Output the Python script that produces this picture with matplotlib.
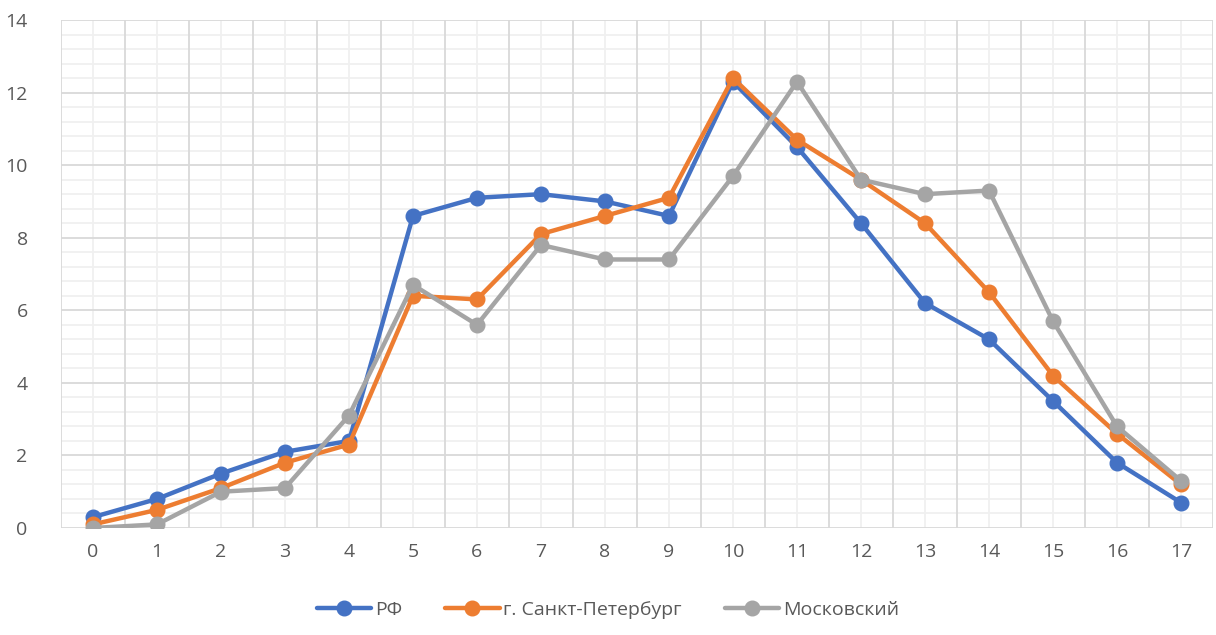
import matplotlib
matplotlib.use("Agg")
import matplotlib.pyplot as plt
from matplotlib.ticker import MultipleLocator, FixedLocator
import numpy as np

categories = list(range(18))
rf = [0.3, 0.8, 1.5, 2.1, 2.4, 8.6, 9.1, 9.2, 9.0, 8.6, 12.3, 10.5, 8.4, 6.2, 5.2, 3.5, 1.8, 0.7]
spb = [0.1, 0.5, 1.1, 1.8, 2.3, 6.4, 6.3, 8.1, 8.6, 9.1, 12.4, 10.7, 9.6, 8.4, 6.5, 4.2, 2.6, 1.2]
msk = [0.0, 0.1, 1.0, 1.1, 3.1, 6.7, 5.6, 7.8, 7.4, 7.4, 9.7, 12.3, 9.6, 9.2, 9.3, 5.7, 2.8, 1.3]
series_names = ["РФ", "г. Санкт-Петербург", "Московский"]
colors = ["#4472C4", "#ED7D31", "#A5A5A5"]

plt.rcParams['font.family'] = ['Open Sans', 'DejaVu Sans']

fig = plt.figure(figsize=(12.16, 6.35), dpi=100)
ax = fig.add_axes([61/1216, 107/635, 1152/1216, 508/635])

x = np.arange(len(categories))
for vals, name, c in zip([rf, spb, msk], series_names, colors):
    ax.plot(x, vals, color=c, lw=3.2, marker='o', ms=10.5, label=name,
            solid_capstyle='round', zorder=3)

ax.set_xlim(-0.5, len(categories) - 0.5)
ax.set_ylim(0, 14)
ax.set_xticks(x)
ax.set_xticklabels([str(c) for c in categories])
ax.yaxis.set_major_locator(MultipleLocator(2))

# gridlines
ax.grid(False)
for xv in np.arange(-0.5, len(categories), 1.0):
    ax.axvline(xv, color='#D9D9D9', lw=1.3, zorder=1)
for xv in x:
    ax.axvline(xv, color='#F0F0F0', lw=1.3, zorder=0.9)
for yv in np.arange(0, 14.01, 2):
    ax.axhline(yv, color='#D9D9D9', lw=1.3, zorder=1)
for yv in np.arange(0.4, 14, 0.4):
    if abs(yv / 2 - round(yv / 2)) > 1e-6:
        ax.axhline(yv, color='#F0F0F0', lw=1.3, zorder=0.9)

for s in ax.spines.values():
    s.set_visible(False)
ax.tick_params(axis='both', which='both', length=0, colors='#595959', labelsize=14)
ax.tick_params(axis='x', pad=11)
ax.tick_params(axis='y', pad=24)

leg = fig.legend(loc='center', bbox_to_anchor=(0.5, 1 - 610/635), ncol=3,
                 frameon=False, fontsize=14, handlelength=2.8, columnspacing=2.2,
                 handletextpad=0.2)
for t in leg.get_texts():
    t.set_color('#595959')

fig.savefig('out.png', dpi=100)
